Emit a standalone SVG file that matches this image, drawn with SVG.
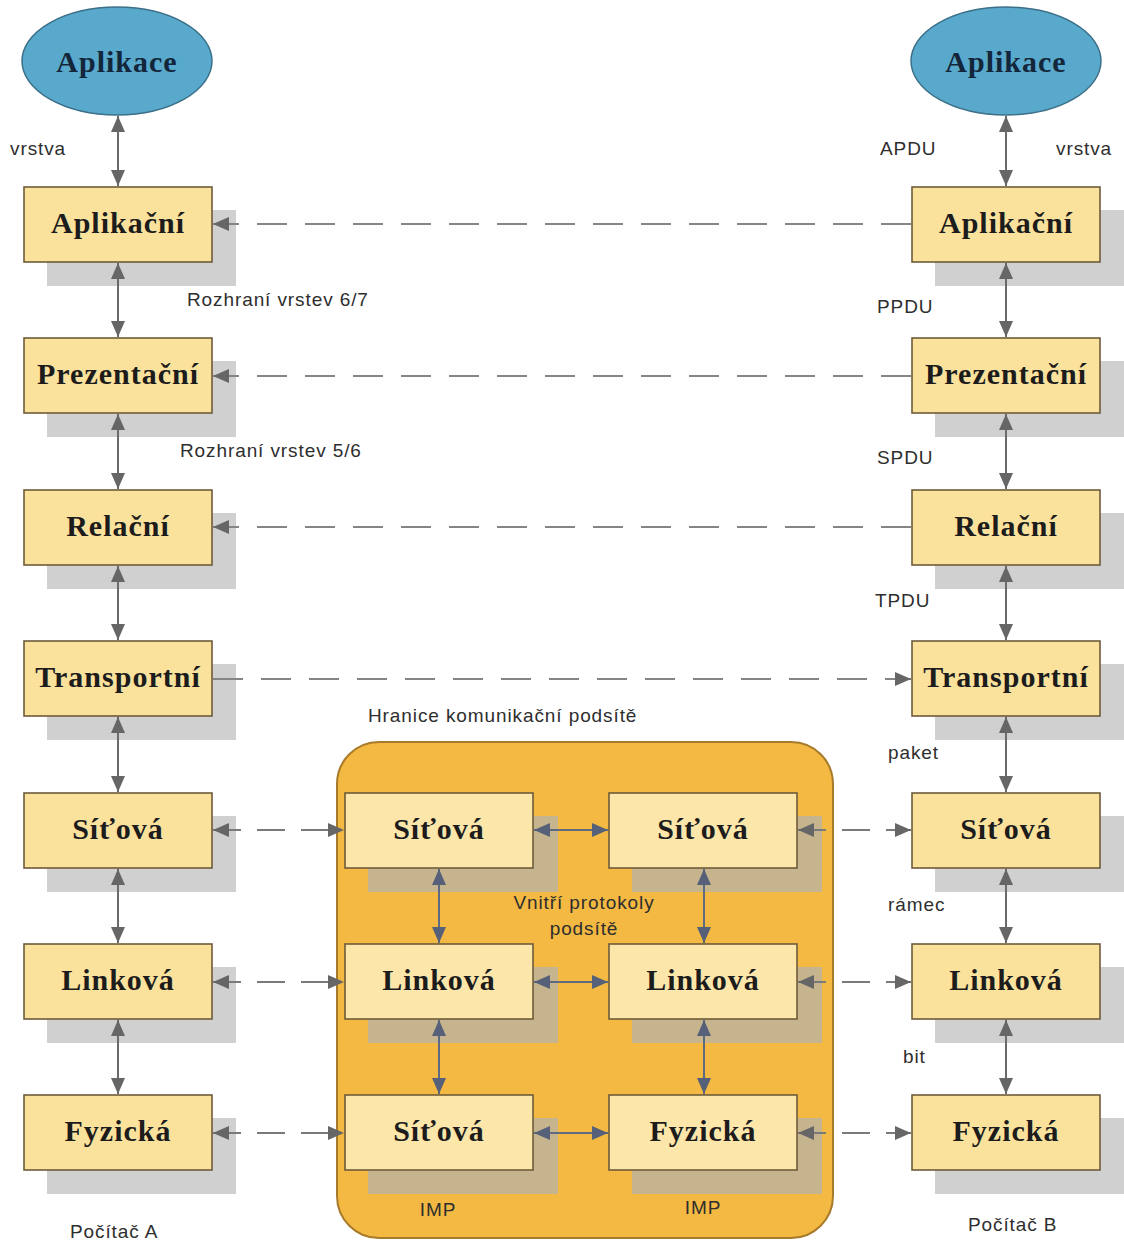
<svg xmlns="http://www.w3.org/2000/svg" width="1124" height="1242" viewBox="0 0 1124 1242">
  <style>
    .box { fill: #fbe29c; stroke: #6e5c3a; stroke-width: 1.6; }
    .ibox { fill: #fce6aa; stroke: #6e5c3a; stroke-width: 1.6; }
    .shadow { fill: #d0d0d0; }
    .ishadow { fill: #c6b48e; }
    .lbl { font-family: "Times New Roman", "Liberation Serif", serif; font-weight: bold; font-size: 30px; letter-spacing: 1px; fill: #1c1c1c; text-anchor: middle; }
    .app { fill: #13263a; }
    .note { font-family: "Liberation Sans", Arial, sans-serif; font-size: 19px; letter-spacing: 0.9px; fill: #2e2e2e; }
    .mid { text-anchor: middle; }
    .v { stroke: #6a6a6a; stroke-width: 2; fill: none; }
    .iv { stroke: #5f6a80; stroke-width: 2; fill: none; }
    .dash { stroke: #858585; stroke-width: 2; fill: none; stroke-dasharray: 30 18; }
    .sdash { stroke: #7a7a7a; stroke-width: 2; fill: none; stroke-dasharray: 28 16; }
  </style>
  <defs>
    <marker id="ah" viewBox="0 0 16 14" refX="16" refY="7" markerWidth="16" markerHeight="14" markerUnits="userSpaceOnUse" orient="auto-start-reverse">
      <path d="M0,0 L16,7 L0,14 Z" fill="#666666"/>
    </marker>
    <marker id="iah" viewBox="0 0 16 14" refX="16" refY="7" markerWidth="16" markerHeight="14" markerUnits="userSpaceOnUse" orient="auto-start-reverse">
      <path d="M0,0 L16,7 L0,14 Z" fill="#566179"/>
    </marker>
  </defs>

  <rect width="1124" height="1242" fill="#ffffff"/>

  <!-- communication subnet boundary -->
  <g id="subnet">
    <rect x="337" y="742" width="496" height="496" rx="42" fill="#f3b942" stroke="#a77a2c" stroke-width="2"/>
  </g>

  <!-- host A, left stack -->
  <g id="appA">
    <ellipse cx="117" cy="61" rx="95" ry="54" fill="#58a9cc" stroke="#3c6f88" stroke-width="1.5"/>
    <text x="117" y="72" class="lbl app">Aplikace</text>
  </g>
  <g id="A7"><rect class="shadow" x="47" y="210" width="189" height="76"/><rect class="box" x="24" y="187" width="188" height="75"/><text class="lbl" x="118" y="233">Aplikační</text></g>
  <g id="A6"><rect class="shadow" x="47" y="361" width="189" height="76"/><rect class="box" x="24" y="338" width="188" height="75"/><text class="lbl" x="118" y="384">Prezentační</text></g>
  <g id="A5"><rect class="shadow" x="47" y="513" width="189" height="76"/><rect class="box" x="24" y="490" width="188" height="75"/><text class="lbl" x="118" y="536">Relační</text></g>
  <g id="A4"><rect class="shadow" x="47" y="664" width="189" height="76"/><rect class="box" x="24" y="641" width="188" height="75"/><text class="lbl" x="118" y="687">Transportní</text></g>
  <g id="A3"><rect class="shadow" x="47" y="816" width="189" height="76"/><rect class="box" x="24" y="793" width="188" height="75"/><text class="lbl" x="118" y="839">Síťová</text></g>
  <g id="A2"><rect class="shadow" x="47" y="967" width="189" height="76"/><rect class="box" x="24" y="944" width="188" height="75"/><text class="lbl" x="118" y="990">Linková</text></g>
  <g id="A1"><rect class="shadow" x="47" y="1118" width="189" height="76"/><rect class="box" x="24" y="1095" width="188" height="75"/><text class="lbl" x="118" y="1141">Fyzická</text></g>

  <!-- host B, right stack -->
  <g id="appB">
    <ellipse cx="1006" cy="61" rx="95" ry="54" fill="#58a9cc" stroke="#3c6f88" stroke-width="1.5"/>
    <text x="1006" y="72" class="lbl app">Aplikace</text>
  </g>
  <g id="B7"><rect class="shadow" x="935" y="210" width="189" height="76"/><rect class="box" x="912" y="187" width="188" height="75"/><text class="lbl" x="1006" y="233">Aplikační</text></g>
  <g id="B6"><rect class="shadow" x="935" y="361" width="189" height="76"/><rect class="box" x="912" y="338" width="188" height="75"/><text class="lbl" x="1006" y="384">Prezentační</text></g>
  <g id="B5"><rect class="shadow" x="935" y="513" width="189" height="76"/><rect class="box" x="912" y="490" width="188" height="75"/><text class="lbl" x="1006" y="536">Relační</text></g>
  <g id="B4"><rect class="shadow" x="935" y="664" width="189" height="76"/><rect class="box" x="912" y="641" width="188" height="75"/><text class="lbl" x="1006" y="687">Transportní</text></g>
  <g id="B3"><rect class="shadow" x="935" y="816" width="189" height="76"/><rect class="box" x="912" y="793" width="188" height="75"/><text class="lbl" x="1006" y="839">Síťová</text></g>
  <g id="B2"><rect class="shadow" x="935" y="967" width="189" height="76"/><rect class="box" x="912" y="944" width="188" height="75"/><text class="lbl" x="1006" y="990">Linková</text></g>
  <g id="B1"><rect class="shadow" x="935" y="1118" width="189" height="76"/><rect class="box" x="912" y="1095" width="188" height="75"/><text class="lbl" x="1006" y="1141">Fyzická</text></g>

  <!-- IMP nodes inside the subnet -->
  <g id="imp1-3"><rect class="ishadow" x="368" y="816" width="190" height="76"/><rect class="ibox" x="345" y="793" width="188" height="75"/><text class="lbl" x="439" y="839">Síťová</text></g>
  <g id="imp1-2"><rect class="ishadow" x="368" y="967" width="190" height="76"/><rect class="ibox" x="345" y="944" width="188" height="75"/><text class="lbl" x="439" y="990">Linková</text></g>
  <g id="imp1-1"><rect class="ishadow" x="368" y="1118" width="190" height="76"/><rect class="ibox" x="345" y="1095" width="188" height="75"/><text class="lbl" x="439" y="1141">Síťová</text></g>
  <g id="imp2-3"><rect class="ishadow" x="632" y="816" width="190" height="76"/><rect class="ibox" x="609" y="793" width="188" height="75"/><text class="lbl" x="703" y="839">Síťová</text></g>
  <g id="imp2-2"><rect class="ishadow" x="632" y="967" width="190" height="76"/><rect class="ibox" x="609" y="944" width="188" height="75"/><text class="lbl" x="703" y="990">Linková</text></g>
  <g id="imp2-1"><rect class="ishadow" x="632" y="1118" width="190" height="76"/><rect class="ibox" x="609" y="1095" width="188" height="75"/><text class="lbl" x="703" y="1141">Fyzická</text></g>

  <!-- connectors -->
  <g id="connectors">
    <!-- vertical interfaces, host A -->
    <line class="v" x1="118" y1="116" x2="118" y2="186" marker-start="url(#ah)" marker-end="url(#ah)"/>
    <line class="v" x1="118" y1="263" x2="118" y2="337" marker-start="url(#ah)" marker-end="url(#ah)"/>
    <line class="v" x1="118" y1="414" x2="118" y2="489" marker-start="url(#ah)" marker-end="url(#ah)"/>
    <line class="v" x1="118" y1="566" x2="118" y2="640" marker-start="url(#ah)" marker-end="url(#ah)"/>
    <line class="v" x1="118" y1="717" x2="118" y2="792" marker-start="url(#ah)" marker-end="url(#ah)"/>
    <line class="v" x1="118" y1="869" x2="118" y2="943" marker-start="url(#ah)" marker-end="url(#ah)"/>
    <line class="v" x1="118" y1="1020" x2="118" y2="1094" marker-start="url(#ah)" marker-end="url(#ah)"/>
    <!-- vertical interfaces, host B -->
    <line class="v" x1="1006" y1="116" x2="1006" y2="186" marker-start="url(#ah)" marker-end="url(#ah)"/>
    <line class="v" x1="1006" y1="263" x2="1006" y2="337" marker-start="url(#ah)" marker-end="url(#ah)"/>
    <line class="v" x1="1006" y1="414" x2="1006" y2="489" marker-start="url(#ah)" marker-end="url(#ah)"/>
    <line class="v" x1="1006" y1="566" x2="1006" y2="640" marker-start="url(#ah)" marker-end="url(#ah)"/>
    <line class="v" x1="1006" y1="717" x2="1006" y2="792" marker-start="url(#ah)" marker-end="url(#ah)"/>
    <line class="v" x1="1006" y1="869" x2="1006" y2="943" marker-start="url(#ah)" marker-end="url(#ah)"/>
    <line class="v" x1="1006" y1="1020" x2="1006" y2="1094" marker-start="url(#ah)" marker-end="url(#ah)"/>

    <!-- peer-to-peer protocols, upper layers -->
    <line class="dash" x1="911" y1="224" x2="213" y2="224" marker-end="url(#ah)"/>
    <line class="dash" x1="911" y1="376" x2="213" y2="376" marker-end="url(#ah)"/>
    <line class="dash" x1="911" y1="527" x2="213" y2="527" marker-end="url(#ah)"/>
    <line class="dash" x1="213" y1="679" x2="911" y2="679" marker-end="url(#ah)"/>

    <!-- host to IMP -->
    <line class="sdash" x1="213" y1="830" x2="344" y2="830" marker-start="url(#ah)" marker-end="url(#ah)"/>
    <line class="sdash" x1="213" y1="982" x2="344" y2="982" marker-start="url(#ah)" marker-end="url(#ah)"/>
    <line class="sdash" x1="213" y1="1133" x2="344" y2="1133" marker-start="url(#ah)" marker-end="url(#ah)"/>
    <line class="sdash" x1="798" y1="830" x2="911" y2="830" marker-start="url(#ah)" marker-end="url(#ah)"/>
    <line class="sdash" x1="798" y1="982" x2="911" y2="982" marker-start="url(#ah)" marker-end="url(#ah)"/>
    <line class="sdash" x1="798" y1="1133" x2="911" y2="1133" marker-start="url(#ah)" marker-end="url(#ah)"/>

    <!-- IMP to IMP -->
    <line class="iv" x1="534" y1="830" x2="608" y2="830" marker-start="url(#iah)" marker-end="url(#iah)"/>
    <line class="iv" x1="534" y1="982" x2="608" y2="982" marker-start="url(#iah)" marker-end="url(#iah)"/>
    <line class="iv" x1="534" y1="1133" x2="608" y2="1133" marker-start="url(#iah)" marker-end="url(#iah)"/>
    <!-- inside IMP -->
    <line class="iv" x1="439" y1="869" x2="439" y2="943" marker-start="url(#iah)" marker-end="url(#iah)"/>
    <line class="iv" x1="439" y1="1020" x2="439" y2="1094" marker-start="url(#iah)" marker-end="url(#iah)"/>
    <line class="iv" x1="704" y1="869" x2="704" y2="943" marker-start="url(#iah)" marker-end="url(#iah)"/>
    <line class="iv" x1="704" y1="1020" x2="704" y2="1094" marker-start="url(#iah)" marker-end="url(#iah)"/>
  </g>

  <!-- annotations -->
  <g id="notes">
    <text class="note" x="10" y="155">vrstva</text>
    <text class="note" x="880" y="155">APDU</text>
    <text class="note" x="1056" y="155">vrstva</text>
    <text class="note" x="187" y="306">Rozhraní vrstev 6/7</text>
    <text class="note" x="877" y="313">PPDU</text>
    <text class="note" x="180" y="457">Rozhraní vrstev 5/6</text>
    <text class="note" x="877" y="464">SPDU</text>
    <text class="note" x="875" y="607">TPDU</text>
    <text class="note" x="368" y="722">Hranice komunikační podsítě</text>
    <text class="note" x="888" y="759">paket</text>
    <text class="note" x="888" y="911">rámec</text>
    <text class="note" x="903" y="1063">bit</text>
    <text class="note mid" x="584" y="909">Vnitří protokoly</text>
    <text class="note mid" x="584" y="935">podsítě</text>
    <text class="note mid" x="438" y="1216">IMP</text>
    <text class="note mid" x="703" y="1214">IMP</text>
    <text class="note" x="70" y="1238">Počítač A</text>
    <text class="note" x="968" y="1231">Počítač B</text>
  </g>
</svg>
